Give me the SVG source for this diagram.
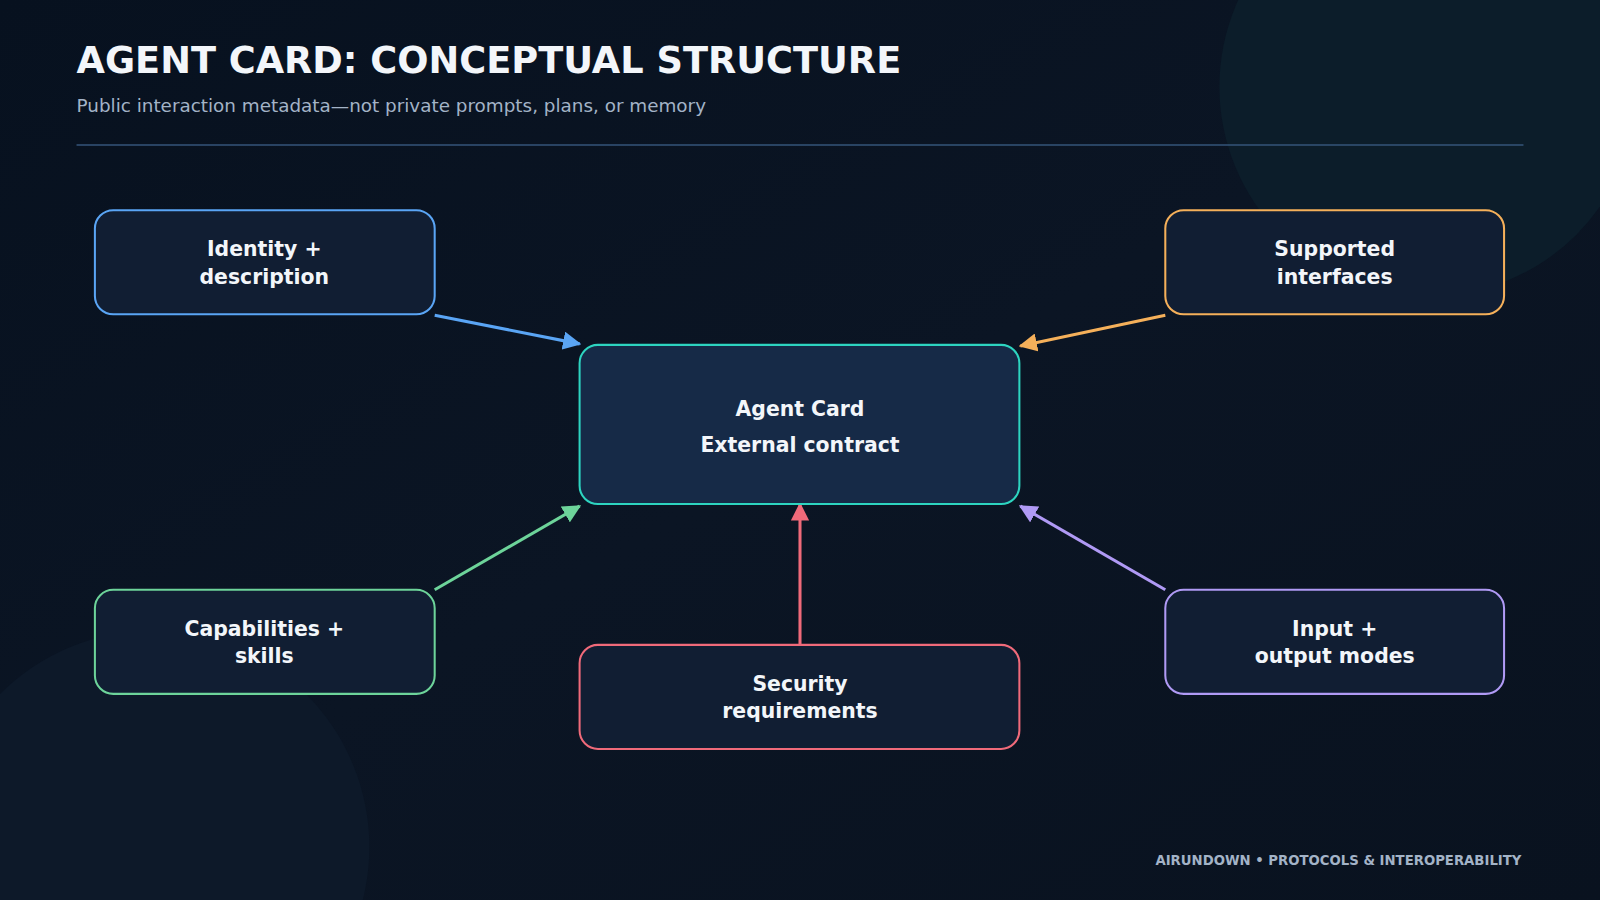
<svg xmlns="http://www.w3.org/2000/svg" width="1600" height="900" viewBox="0 0 1600 900">
<defs>
<linearGradient id="bg" x1="0" y1="0" x2="1" y2="1"><stop offset="0" stop-color="#07111f"/><stop offset="0.5" stop-color="#0b1524"/><stop offset="1" stop-color="#09121f"/></linearGradient>
<marker id="mb" viewBox="0 0 10 10" refX="9" refY="5" markerWidth="6" markerHeight="6" orient="auto" markerUnits="strokeWidth"><path d="M0,0L10,5L0,10z" fill="#5aa5f5"/></marker>
<marker id="mo" viewBox="0 0 10 10" refX="9" refY="5" markerWidth="6" markerHeight="6" orient="auto" markerUnits="strokeWidth"><path d="M0,0L10,5L0,10z" fill="#f5b05a"/></marker>
<marker id="mg" viewBox="0 0 10 10" refX="9" refY="5" markerWidth="6" markerHeight="6" orient="auto" markerUnits="strokeWidth"><path d="M0,0L10,5L0,10z" fill="#6dd49a"/></marker>
<marker id="mr" viewBox="0 0 10 10" refX="9" refY="5" markerWidth="6" markerHeight="6" orient="auto" markerUnits="strokeWidth"><path d="M0,0L10,5L0,10z" fill="#f06a7a"/></marker>
<marker id="mp" viewBox="0 0 10 10" refX="9" refY="5" markerWidth="6" markerHeight="6" orient="auto" markerUnits="strokeWidth"><path d="M0,0L10,5L0,10z" fill="#b09af5"/></marker>
</defs>
<style>
text{font-family:"DejaVu Sans",sans-serif}
.n{fill:#111e33;stroke-width:2}
.l{fill:#f3f6fa;font-weight:bold;font-size:20px;text-anchor:middle}
.c{fill:none;stroke-width:3}
</style>
<rect width="1600" height="900" fill="url(#bg)"/>
<g transform="scale(1.0204)">
<circle cx="1400" cy="85" r="205" fill="#0c1d2a"/>
<circle cx="150" cy="830" r="212" fill="#0d1929"/>
<text x="75" y="72" font-size="36" font-weight="bold" fill="#f3f6fa">AGENT CARD: CONCEPTUAL STRUCTURE</text>
<text x="75" y="110" font-size="18" fill="#a3b3c7">Public interaction metadata—not private prompts, plans, or memory</text>
<line x1="75" y1="142" x2="1493" y2="142" stroke="#35557a" stroke-width="1.5"/>
<g id="connectors">
<line class="c" x1="426" y1="309" x2="568" y2="337" stroke="#5aa5f5" marker-end="url(#mb)"/>
<line class="c" x1="1142" y1="309" x2="1000" y2="339" stroke="#f5b05a" marker-end="url(#mo)"/>
<line class="c" x1="426" y1="578" x2="568" y2="496" stroke="#6dd49a" marker-end="url(#mg)"/>
<line class="c" x1="784" y1="632" x2="784" y2="494" stroke="#f06a7a" marker-end="url(#mr)"/>
<line class="c" x1="1142" y1="578" x2="1000" y2="496" stroke="#b09af5" marker-end="url(#mp)"/>
</g>
<g id="center"><rect x="568" y="338" width="431" height="156" rx="18" fill="#162a47" stroke="#2dd4c0" stroke-width="2"/>
<text class="l" x="784" y="408" font-size="27">Agent Card</text><text class="l" x="784" y="443" font-size="27">External contract</text></g>
<g id="identity"><rect class="n" x="93" y="206" width="333" height="102" rx="18" stroke="#5aa5f5"/>
<text class="l" x="259" y="251">Identity +</text><text class="l" x="259" y="278">description</text></g>
<g id="interfaces"><rect class="n" x="1142" y="206" width="332" height="102" rx="18" stroke="#f5b05a"/>
<text class="l" x="1308" y="251">Supported</text><text class="l" x="1308" y="278">interfaces</text></g>
<g id="capabilities"><rect class="n" x="93" y="578" width="333" height="102" rx="18" stroke="#6dd49a"/>
<text class="l" x="259" y="623">Capabilities +</text><text class="l" x="259" y="650">skills</text></g>
<g id="security"><rect class="n" x="568" y="632" width="431" height="102" rx="18" stroke="#f06a7a"/>
<text class="l" x="784" y="677">Security</text><text class="l" x="784" y="704">requirements</text></g>
<g id="modes"><rect class="n" x="1142" y="578" width="332" height="102" rx="18" stroke="#b09af5"/>
<text class="l" x="1308" y="623">Input +</text><text class="l" x="1308" y="650">output modes</text></g>
<text x="1491" y="848" font-size="13" font-weight="bold" fill="#a3b3c7" text-anchor="end">AIRUNDOWN • PROTOCOLS &amp; INTEROPERABILITY</text>
</g>
</svg>
